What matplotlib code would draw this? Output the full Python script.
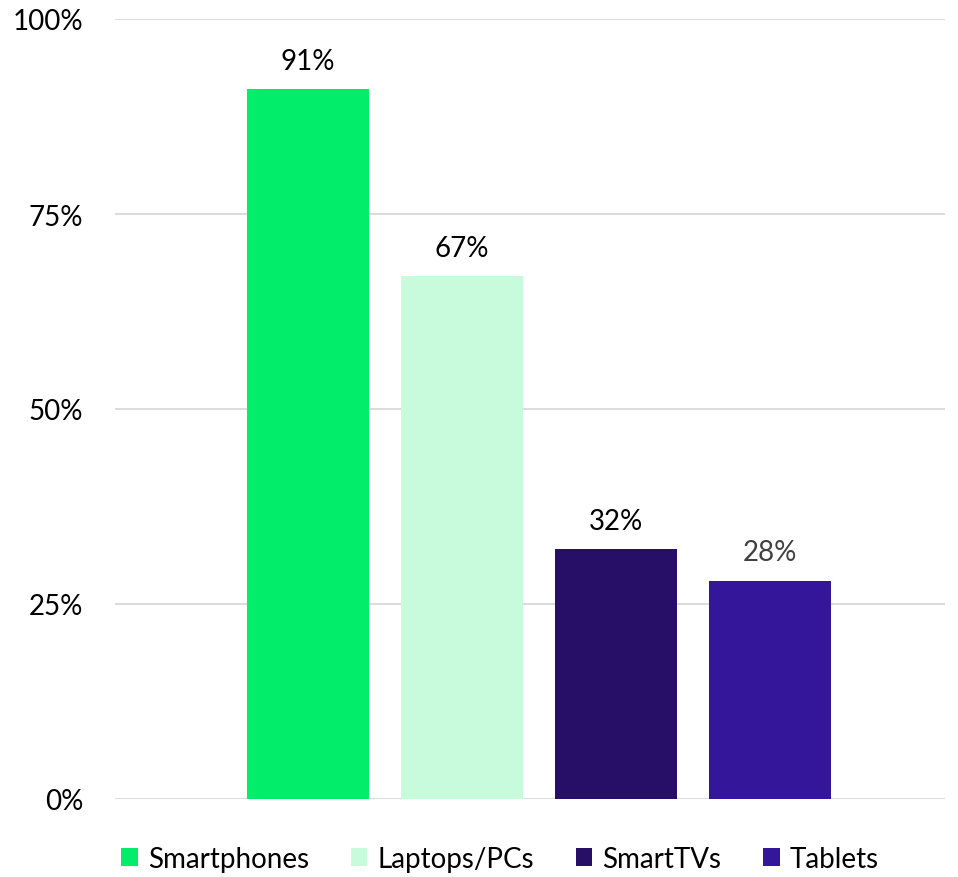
import matplotlib.pyplot as plt
import matplotlib.patches as mpatches
from matplotlib.ticker import FuncFormatter

# ── Data ──────────────────────────────────────────────────────────────────────
devices = ['Smartphones', 'Laptops/PCs', 'SmartTVs', 'Tablets']
shares = [91, 67, 32, 28]
colours = ['#02EE6A', '#C8FADC', '#270E66', '#33169A']
label_colours = ['#000000', '#000000', '#000000', '#404040']
yticks = [0, 25, 50, 75, 100]

plt.rcParams['font.family'] = ['Lato', 'DejaVu Sans']

fig = plt.figure(figsize=(9.58, 8.78), dpi=100)
ax = fig.add_axes([115 / 958, 1 - 800 / 878, 830 / 958, 780 / 878])

x = list(range(len(devices)))
bars = ax.bar(x, shares, width=122 / 154, color=colours, zorder=3)

for b, v, c in zip(bars, shares, label_colours):
    ax.annotate(f'{v}%', (b.get_x() + b.get_width() / 2, v),
                xytext=(0, 11), textcoords='offset points',
                ha='center', va='bottom', fontsize=20, color=c)

ax.set_xlim(-1.253, 4.136)
ax.set_ylim(0, 100)
ax.set_yticks(yticks)
ax.yaxis.set_major_formatter(FuncFormatter(lambda v, _: f'{v:.0f}%'))
ax.tick_params(axis='y', length=0, pad=23, labelsize=20)
ax.set_xticks([])
ax.grid(axis='y', color='#D9D9D9', linewidth=1.3, zorder=0)
for s in ax.spines.values():
    s.set_visible(False)

handles = [mpatches.Patch(facecolor=c, label=d) for c, d in zip(colours, devices)]
fig.legend(handles=handles, loc='center', bbox_to_anchor=(500 / 958, 1 - 860 / 878),
           ncol=4, frameon=False, fontsize=20, handlelength=0.6, handleheight=0.6,
           handletextpad=0.36, columnspacing=1.5, borderpad=0, borderaxespad=0)

fig.savefig('out.png', dpi=100)
